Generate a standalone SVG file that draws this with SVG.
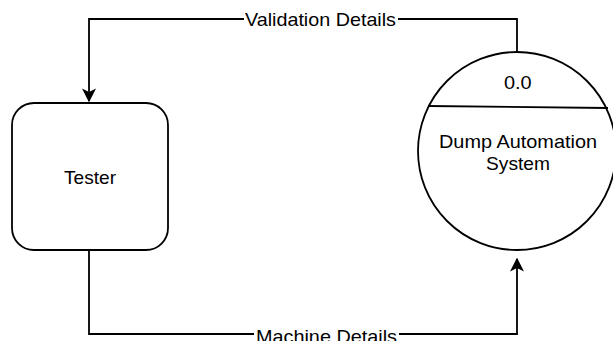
<svg xmlns="http://www.w3.org/2000/svg" width="613" height="341" viewBox="0 0 613 341">
  <defs>
    <marker id="arrowBig" viewBox="0 0 10 10" refX="9" refY="5" markerWidth="14" markerHeight="14" markerUnits="userSpaceOnUse" orient="auto">
      <path d="M0,0 L10,5 L0,10 L2.5,5 Z" fill="#000"/>
    </marker>
  </defs>
  <style>
    .shape { fill: #fff; stroke: #000; stroke-width: 1.8; }
    .edge { fill: none; stroke: #000; stroke-width: 1.8; }
    .lbl { font-family: "Liberation Sans", Arial, sans-serif; font-size: 18.5px; fill: #000; text-anchor: middle; }
    .bg { fill: #fff; }
  </style>
  <rect width="613" height="341" fill="#fff"/>

  <g id="connectors">
    <g id="validation-details">
      <path class="edge" d="M517,52 V19 H89 V101" marker-end="url(#arrowBig)"/>
      <rect class="bg" x="244" y="8" width="154" height="22"/>
      <text class="lbl" x="320.5" y="26" textLength="151" lengthAdjust="spacingAndGlyphs">Validation Details</text>
    </g>
    <g id="machine-details">
      <path class="edge" d="M89,250 V334 H517 V259" marker-end="url(#arrowBig)"/>
      <rect class="bg" x="254" y="324" width="145" height="20"/>
      <text class="lbl" x="326.5" y="343" textLength="141" lengthAdjust="spacingAndGlyphs">Machine Details</text>
    </g>
  </g>

  <g id="tester">
    <rect class="shape" x="12" y="103" width="156" height="147" rx="22" ry="22"/>
    <text class="lbl" x="90" y="184" textLength="52" lengthAdjust="spacingAndGlyphs">Tester</text>
  </g>

  <g id="process-0-0">
    <circle class="shape" cx="517" cy="151" r="99"/>
    <line class="edge" x1="428" y1="106" x2="608" y2="108"/>
    <text class="lbl" x="517.8" y="89.3" textLength="27.7" lengthAdjust="spacingAndGlyphs">0.0</text>
    <text class="lbl" x="518" y="147.5" textLength="158" lengthAdjust="spacingAndGlyphs">Dump Automation</text>
    <text class="lbl" x="518" y="170" textLength="64" lengthAdjust="spacingAndGlyphs">System</text>
  </g>
</svg>
